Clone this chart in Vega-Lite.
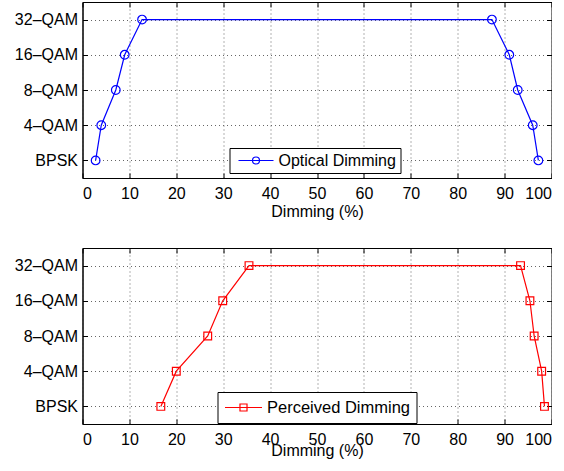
{
  "$schema": "https://vega.github.io/schema/vega-lite/v6.json",
  "padding": {"left": 13.5, "top": 1, "right": -1, "bottom": 0},
  "spacing": 27,
  "config": {
    "font": "Liberation Sans",
    "view": {"stroke": "black", "strokeWidth": 1},
    "axis": {
      "labelFont": "Liberation Sans", "labelFontSize": 16, "labelColor": "black",
      "titleFont": "Liberation Sans", "titleFontSize": 16, "titleFontWeight": "normal", "titleColor": "black",
      "domainColor": "black", "tickColor": "black", "tickSize": -5,
      "gridColor": "#666", "gridDash": [1, 3], "gridOpacity": 1, "gridWidth": 1
    }
  },
  "resolve": {"scale": {"color": "independent"}, "legend": {"color": "independent"}},
  "vconcat": [
    {
      "width": 469, "height": 176,
      "data": {"values": [
        {"series": "Optical Dimming", "modulation": "BPSK", "dimming": 2.8},
        {"series": "Optical Dimming", "modulation": "4–QAM", "dimming": 4.0},
        {"series": "Optical Dimming", "modulation": "8–QAM", "dimming": 7.1},
        {"series": "Optical Dimming", "modulation": "16–QAM", "dimming": 9.0},
        {"series": "Optical Dimming", "modulation": "32–QAM", "dimming": 12.7},
        {"series": "Optical Dimming", "modulation": "32–QAM", "dimming": 87.3},
        {"series": "Optical Dimming", "modulation": "16–QAM", "dimming": 91.0},
        {"series": "Optical Dimming", "modulation": "8–QAM", "dimming": 92.8},
        {"series": "Optical Dimming", "modulation": "4–QAM", "dimming": 96.0},
        {"series": "Optical Dimming", "modulation": "BPSK", "dimming": 97.2}
      ]},
      "layer": [
        {
          "mark": {"type": "line", "strokeWidth": 1.2, "point": {"filled": false, "shape": "circle", "size": 75, "strokeWidth": 1.2}},
          "encoding": {
            "x": {"field": "dimming", "type": "quantitative", "scale": {"domain": [0, 100], "nice": false},
                  "axis": {"title": "Dimming (%)", "values": [0,10,20,30,40,50,60,70,80,90,100], "grid": true, "labelPadding": 12, "titlePadding": 2}},
            "y": {"field": "modulation", "type": "nominal", "sort": ["32–QAM", "16–QAM", "8–QAM", "4–QAM", "BPSK"],
                  "scale": {"type": "point", "padding": 0.5}, "axis": {"title": null, "grid": true, "labelPadding": 10}},
            "color": {"field": "series", "type": "nominal", "scale": {"domain": ["Optical Dimming"], "range": ["#0000ff"]},
                      "legend": {"orient": "none", "legendX": 147, "legendY": 146, "title": null,
                                 "symbolType": "M-1,0H1M-0.2,0A0.2,0.2,0,1,1,0.2,0A0.2,0.2,0,1,1,-0.2,0",
                                 "symbolSize": 1225, "symbolOffset": 3.5, "clipHeight": 16, "padding": 4.5,
                                 "strokeColor": "black", "fillColor": "white", "labelOffset": 4,
                                 "labelFont": "Liberation Sans", "labelFontSize": 16, "labelColor": "black",
                                 "symbolStrokeWidth": 1.2, "symbolFillColor": "transparent", "cornerRadius": 0}},
            "order": {"field": "dimming", "type": "quantitative"}
          }
        },
        {
          "mark": {"type": "point", "opacity": 0},
          "encoding": {
            "x": {"field": "dimming", "type": "quantitative", "scale": {"domain": [0, 100], "nice": false},
                  "axis": {"orient": "top", "title": null, "labels": false, "grid": false, "domain": false, "values": [0,10,20,30,40,50,60,70,80,90,100]}},
            "y": {"field": "modulation", "type": "nominal", "sort": ["32–QAM", "16–QAM", "8–QAM", "4–QAM", "BPSK"],
                  "scale": {"type": "point", "padding": 0.5}, "axis": {"orient": "right", "title": null, "labels": false, "grid": false, "domain": false}}
          }
        }
      ],
      "resolve": {"axis": {"x": "independent", "y": "independent"}}
    },
    {
      "width": 469, "height": 176,
      "data": {"values": [
        {"series": "Perceived Dimming", "modulation": "BPSK", "dimming": 16.7},
        {"series": "Perceived Dimming", "modulation": "4–QAM", "dimming": 20.0},
        {"series": "Perceived Dimming", "modulation": "8–QAM", "dimming": 26.7},
        {"series": "Perceived Dimming", "modulation": "16–QAM", "dimming": 29.9},
        {"series": "Perceived Dimming", "modulation": "32–QAM", "dimming": 35.5},
        {"series": "Perceived Dimming", "modulation": "32–QAM", "dimming": 93.4},
        {"series": "Perceived Dimming", "modulation": "16–QAM", "dimming": 95.4},
        {"series": "Perceived Dimming", "modulation": "8–QAM", "dimming": 96.3},
        {"series": "Perceived Dimming", "modulation": "4–QAM", "dimming": 97.9},
        {"series": "Perceived Dimming", "modulation": "BPSK", "dimming": 98.5}
      ]},
      "layer": [
        {
          "mark": {"type": "line", "strokeWidth": 1.2, "point": {"filled": false, "shape": "square", "size": 60, "strokeWidth": 1.2}},
          "encoding": {
            "x": {"field": "dimming", "type": "quantitative", "scale": {"domain": [0, 100], "nice": false},
                  "axis": {"title": "Dimming (%)", "values": [0,10,20,30,40,50,60,70,80,90,100], "grid": true, "labelPadding": 12, "titlePadding": -5}},
            "y": {"field": "modulation", "type": "nominal", "sort": ["32–QAM", "16–QAM", "8–QAM", "4–QAM", "BPSK"],
                  "scale": {"type": "point", "padding": 0.5}, "axis": {"title": null, "grid": true, "labelPadding": 10}},
            "color": {"field": "series", "type": "nominal", "scale": {"domain": ["Perceived Dimming"], "range": ["#ff0000"]},
                      "legend": {"orient": "none", "legendX": 135, "legendY": 144, "title": null,
                                 "symbolType": "M-1,0H1M-0.19,-0.19H0.19V0.19H-0.19Z",
                                 "symbolSize": 1369, "symbolOffset": 1, "clipHeight": 20, "padding": 5.5,
                                 "strokeColor": "black", "fillColor": "white", "labelOffset": 4,
                                 "labelFont": "Liberation Sans", "labelFontSize": 16.5, "labelColor": "black",
                                 "symbolStrokeWidth": 1.2, "symbolFillColor": "transparent", "cornerRadius": 0}},
            "order": {"field": "dimming", "type": "quantitative"}
          }
        },
        {
          "mark": {"type": "point", "opacity": 0},
          "encoding": {
            "x": {"field": "dimming", "type": "quantitative", "scale": {"domain": [0, 100], "nice": false},
                  "axis": {"orient": "top", "title": null, "labels": false, "grid": false, "domain": false, "values": [0,10,20,30,40,50,60,70,80,90,100]}},
            "y": {"field": "modulation", "type": "nominal", "sort": ["32–QAM", "16–QAM", "8–QAM", "4–QAM", "BPSK"],
                  "scale": {"type": "point", "padding": 0.5}, "axis": {"orient": "right", "title": null, "labels": false, "grid": false, "domain": false}}
          }
        }
      ],
      "resolve": {"axis": {"x": "independent", "y": "independent"}}
    }
  ]
}
